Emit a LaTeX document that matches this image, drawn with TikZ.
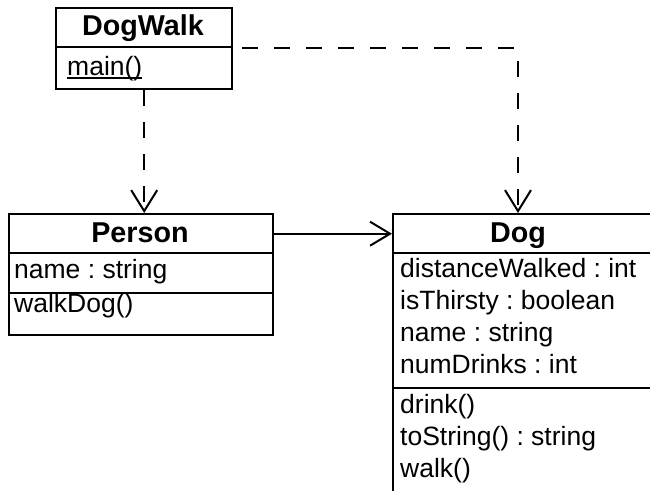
\documentclass[tikz,border=0pt]{standalone}
\usepackage{fontspec}
\setmainfont{Liberation Sans}
\usetikzlibrary{arrows.meta}
\frenchspacing

\tikzset{
	box/.style={draw, line width=2.4pt, inner sep=0pt, anchor=north west},
	classname/.style={font=\fontsize{28.7}{32}\selectfont\bfseries, inner sep=0pt, anchor=base},
	member/.style={font=\fontsize{26.5}{32}\selectfont\frenchspacing, inner sep=0pt, anchor=base west},
	dep/.style={line width=2pt, dash pattern=on 16pt off 16pt, -{Straight Barb[length=21pt,width=26pt]}},
	assoc/.style={line width=2pt, -{Straight Barb[length=20pt,width=24pt]}},
}

\begin{document}
\begin{tikzpicture}[x=1pt,y=-1pt]
			\useasboundingbox (0,0) rectangle (650,490);
			\clip (0,0) rectangle (650,490);
			% DogWalk class
			\node[box, minimum width=176pt, minimum height=39pt] (walktop) at (55,7) {};
			\node[box, minimum width=176pt, minimum height=42pt] (walkops) at (55,46) {};
			\node[classname] (walkname) at (143,35) {DogWalk};
			\node[member] (mainop) at (67,75) {main()};
			\draw[line width=1.6pt] ([yshift=-3pt]mainop.base west) -- ([yshift=-3pt]mainop.base east);
			% Person class
			\node[box, minimum width=264pt, minimum height=39pt] (persontop) at (8,213) {};
			\node[box, minimum width=264pt, minimum height=40pt] (personattr) at (8,252) {};
			\node[box, minimum width=264pt, minimum height=42pt] (personops) at (8,292) {};
			\node[classname] (personname) at (140,242) {Person};
			\node[member] (personname1) at (14,278) {name : string};
			\node[member] (personwalk) at (14,312) {walkDog()};
			% Dog class (runs off the right and bottom edges)
			\node[box, minimum width=270pt, minimum height=39pt] (dogtop) at (392,213) {};
			\node[box, minimum width=270pt, minimum height=135pt] (dogattr) at (392,252) {};
			\node[box, minimum width=270pt, minimum height=120pt] (dogops) at (392,387) {};
			\node[classname] (dogname) at (518,242) {Dog};
			\node[member] (dogdist) at (400,277) {distanceWalked : int};
			\node[member] (dogthirsty) at (400,309) {isThirsty : boolean};
			\node[member] (dogname1) at (400,341) {name : string};
			\node[member] (dogdrinks) at (400,373) {numDrinks : int};
			\node[member] (dogdrink) at (400,413) {drink()};
			\node[member] (dogtostring) at (400,445) {toString() : string};
			\node[member] (dogwalk) at (400,477) {walk()};
			% dependencies and association
			\draw[dep] (walkops.south) -- (walkops.south |- persontop.north);
			\draw[dep, dash phase=23pt] (walktop.south east) -| (dogname |- dogtop.north);
			\draw[assoc] (persontop.east) -- (dogtop.west);
		\end{tikzpicture}
\end{document}
